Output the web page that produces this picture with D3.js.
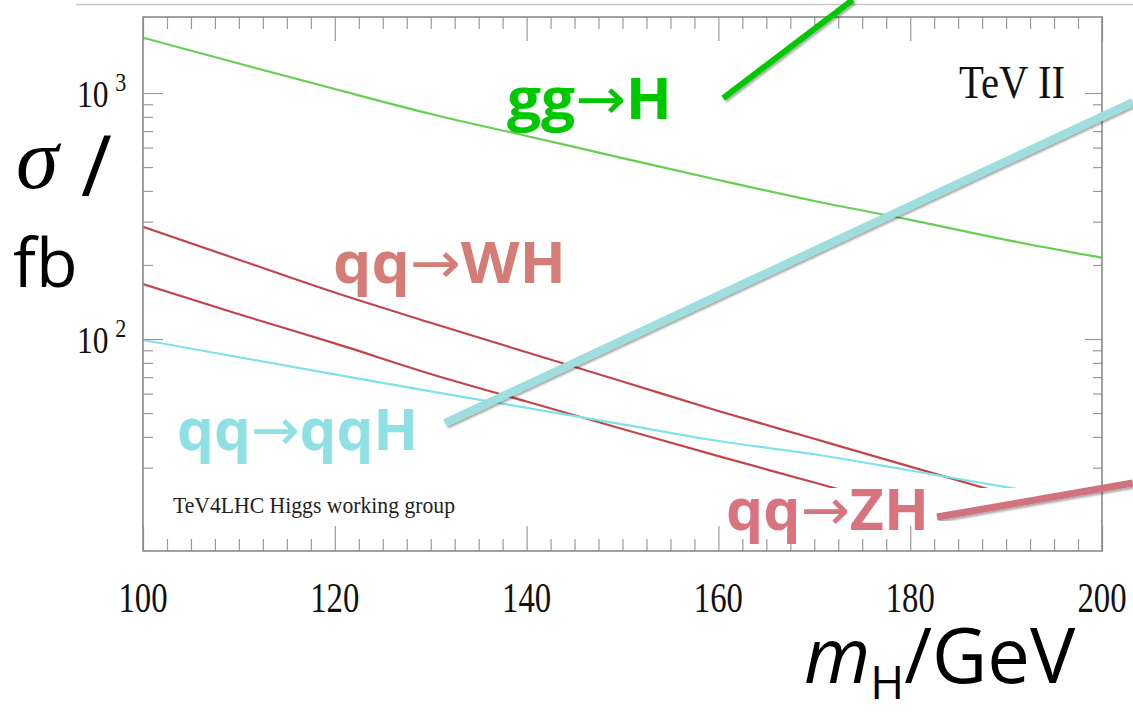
<!DOCTYPE html>
<html>
<head>
<meta charset="utf-8">
<script src="https://cdn.jsdelivr.net/npm/d3@7"></script>
<style>
    body { margin: 0; background: #fff; }
    svg { display: block; }
</style>
</head>
<body>
<svg width="1133" height="712"></svg>
<script>
/*
    Higgs production cross sections at the Tevatron (TeV II)
 */

// Higgs mass in GeV
const masses = [100, 110, 120, 130, 140, 150, 160, 170, 180, 190, 200];

// cross sections in fb
const ggH  = [1678, 1318, 1038, 822, 669, 544, 443, 364, 305, 253, 214];
const qqWH = [286, 210, 154.5, 116.4, 88.3, 67.2, 51, 39.3, 30.3, 23.4, 18.2];
const qqZH = [167.3, 126.1, 96, 72.1, 55.7, 43.1, 33.4, 26.1, 20.3, 15.8, 12.4];
const qqH  = [99.1, 84.3, 71.8, 61.3, 52.5, 45.0, 38.5, 34.0, 29.2, 25.0, 21.4];

// ticks
const xMajor = [100, 120, 140, 160, 180, 200];
const xMinor = d3.range(100, 200.01, 2.5).filter(d => d % 20 !== 0);
const yMajor = [100, 1000];
const yMinor = [30, 40, 50, 60, 70, 80, 90, 200, 300, 400, 500, 600, 700, 800, 900];

const config = {
    left: 143,
    right: 1102,
    top: 17,
    bottom: 551,
    yMin: 13.75,
    yMax: 2037
};

const series = [
    { name: "gg->H", values: ggH, color: "#66cf52" },
    { name: "qq->WH", values: qqWH, color: "#c0464c" },
    { name: "qq->ZH", values: qqZH, color: "#c0464c" },
    { name: "qq->qqH", values: qqH, color: "#7fe2ea" }
];

const x = d3.scaleLinear().domain([100, 200]).range([config.left, config.right]);
const y = d3.scaleLog().domain([config.yMin, config.yMax]).range([config.bottom, config.top]);

const svg = d3.select("svg");

const defs = svg.append("defs");
defs.append("clipPath").attr("id", "plot-clip")
    .append("rect")
    .attr("x", config.left)
    .attr("y", config.top)
    .attr("width", config.right - config.left)
    .attr("height", config.bottom - config.top);

defs.append("filter").attr("id", "shadow")
    .attr("x", "-10%").attr("y", "-10%").attr("width", "120%").attr("height", "120%")
    .append("feDropShadow")
    .attr("dx", 1.5).attr("dy", 2)
    .attr("stdDeviation", 1.2)
    .attr("flood-color", "#000")
    .attr("flood-opacity", 0.35);

// faint slide rule at the very top
svg.append("line")
    .attr("x1", 76).attr("x2", 1133)
    .attr("y1", 4.5).attr("y2", 4.5)
    .attr("stroke", "#c8c8c8")
    .attr("stroke-width", 1.5);

// curves
const line = d3.line()
    .x((d, i) => x(masses[i]))
    .y(d => y(d))
    .curve(d3.curveMonotoneX);

svg.append("g")
    .attr("clip-path", "url(#plot-clip)")
    .selectAll("path")
    .data(series)
    .enter()
    .append("path")
    .attr("d", d => line(d.values))
    .attr("fill", "none")
    .attr("stroke", d => d.color)
    .attr("stroke-width", 2.2);

// white box behind the qq->ZH label (hides the curve ends)
svg.append("rect")
    .attr("x", 716)
    .attr("y", 488)
    .attr("width", config.right - 717)
    .attr("height", config.bottom - 488)
    .attr("fill", "#fff");

// axes (ticks pointing inward on all four sides)
function addAxis (axis, transform) {
    svg.append("g")
        .attr("transform", transform)
        .call(axis)
        .call(g => g.select(".domain").remove())
        .call(g => g.selectAll(".tick line").attr("stroke", "#9a9a9a").attr("stroke-width", 1.2))
        .call(g => g.selectAll(".tick text").remove());
}

addAxis(d3.axisBottom(x).tickValues(xMinor).tickSize(-12), `translate(0, ${config.bottom})`);
addAxis(d3.axisBottom(x).tickValues(xMajor).tickSize(-25), `translate(0, ${config.bottom})`);
addAxis(d3.axisTop(x).tickValues(xMinor).tickSize(-12), `translate(0, ${config.top})`);
addAxis(d3.axisTop(x).tickValues(xMajor).tickSize(-24), `translate(0, ${config.top})`);
addAxis(d3.axisLeft(y).tickValues(yMinor).tickSize(-10), `translate(${config.left}, 0)`);
addAxis(d3.axisLeft(y).tickValues(yMajor).tickSize(-20), `translate(${config.left}, 0)`);
addAxis(d3.axisRight(y).tickValues(yMinor).tickSize(-9), `translate(${config.right}, 0)`);
addAxis(d3.axisRight(y).tickValues(yMajor).tickSize(-17), `translate(${config.right}, 0)`);

// frame
svg.append("rect")
    .attr("x", config.left)
    .attr("y", config.top)
    .attr("width", config.right - config.left)
    .attr("height", config.bottom - config.top)
    .attr("fill", "none")
    .attr("stroke", "#8a8a8a")
    .attr("stroke-width", 1.6);

// x tick labels
svg.append("g")
    .selectAll("text")
    .data(xMajor)
    .enter()
    .append("text")
    .attr("transform", d => `translate(${x(d)}, 612) scale(0.78, 1)`)
    .attr("text-anchor", "middle")
    .attr("font-family", "'Liberation Serif', 'Times New Roman', serif")
    .attr("font-size", 42)
    .attr("fill", "#111")
    .text(d => d);

// y tick labels, 10^n
const yLab = svg.append("g")
    .selectAll("text")
    .data(yMajor)
    .enter()
    .append("text")
    .attr("transform", d => `translate(77, ${y(d) + 14}) scale(0.85, 1)`)
    .attr("font-family", "'Liberation Serif', 'Times New Roman', serif")
    .attr("font-size", 37)
    .attr("fill", "#111");
yLab.append("tspan").text("10");
yLab.append("tspan")
    .attr("dx", 8)
    .attr("dy", -16)
    .attr("font-size", 26)
    .text(d => Math.round(Math.log10(d)));

// texts inside the plot
svg.append("text")
    .attr("x", 959)
    .attr("y", 98)
    .attr("textLength", 106)
    .attr("lengthAdjust", "spacingAndGlyphs")
    .attr("font-family", "'Liberation Serif', 'Times New Roman', serif")
    .attr("font-size", 46)
    .attr("fill", "#111")
    .text("TeV II");

svg.append("text")
    .attr("x", 173)
    .attr("y", 513)
    .attr("textLength", 282)
    .attr("lengthAdjust", "spacingAndGlyphs")
    .attr("font-family", "'Liberation Serif', 'Times New Roman', serif")
    .attr("font-size", 23)
    .attr("fill", "#222")
    .text("TeV4LHC Higgs working group");

// axis titles
const yTitle = svg.append("g");
yTitle.append("text")
    .attr("x", 16)
    .attr("y", 188)
    .attr("font-family", "'Liberation Serif', 'Times New Roman', serif")
    .attr("font-style", "italic")
    .attr("font-size", 86)
    .attr("fill", "#000")
    .text("σ");
yTitle.append("text")
    .attr("x", 81)
    .attr("y", 196)
    .attr("font-family", "'Open Sans', 'Noto Sans', sans-serif")
    .attr("font-size", 84)
    .attr("fill", "#000")
    .text("/");
yTitle.append("text")
    .attr("x", 13)
    .attr("y", 287)
    .attr("font-family", "'Open Sans', 'Noto Sans', sans-serif")
    .attr("font-size", 68)
    .attr("fill", "#000")
    .text("fb");

const xTitle = svg.append("text")
    .attr("x", 804)
    .attr("y", 683)
    .attr("font-family", "'Open Sans', 'Noto Sans', sans-serif")
    .attr("font-size", 76)
    .attr("fill", "#000");
xTitle.append("tspan").attr("font-style", "italic").text("m");
xTitle.append("tspan").attr("font-size", 46).attr("dy", 16).text("H");
xTitle.append("tspan").attr("dy", -16).text("/GeV");

// process labels and their pointer lines
const labels = [
    { text: ["gg", "→", "H"], x: 507, y: 119, width: 165, color: "#00c800" },
    { text: ["qq", "→", "WH"], x: 333, y: 283, width: 233, color: "#d47d76" },
    { text: ["qq", "→", "qqH"], x: 177, y: 450, width: 241, color: "#8fe0e3" },
    { text: ["qq", "→", "ZH"], x: 726, y: 530, width: 203, color: "#d9737f" }
];

const pointers = [
    { from: [160.5, 954], to: [174.0, 2389], color: "#00c800", width: 6 },
    { from: [131.5, 45.6], to: [203.2, 919], color: "#9edede", width: 8 },
    { from: [182.8, 18.9], to: [203.2, 26.0], color: "#d0737e", width: 7 }
];

const lab = svg.append("g")
    .selectAll("text")
    .data(labels)
    .enter()
    .append("text")
    .attr("x", d => d.x)
    .attr("y", d => d.y)
    .attr("textLength", d => d.width)
    .attr("lengthAdjust", "spacingAndGlyphs")
    .attr("font-family", "'Open Sans', 'Noto Sans', sans-serif")
    .attr("font-weight", "bold")
    .attr("font-size", 58)
    .attr("fill", d => d.color);
lab.append("tspan").text(d => d.text[0]);
lab.append("tspan")
    .attr("font-weight", "normal")
    .attr("font-family", "'DejaVu Sans', sans-serif")
    .text(d => d.text[1]);
lab.append("tspan").text(d => d.text[2]);

svg.append("g")
    .selectAll("line")
    .data(pointers)
    .enter()
    .append("line")
    .attr("x1", d => x(d.from[0]))
    .attr("y1", d => y(d.from[1]))
    .attr("x2", d => x(d.to[0]))
    .attr("y2", d => y(d.to[1]))
    .attr("stroke", d => d.color)
    .attr("stroke-width", d => d.width)
    .attr("filter", "url(#shadow)");
</script>
</body>
</html>
